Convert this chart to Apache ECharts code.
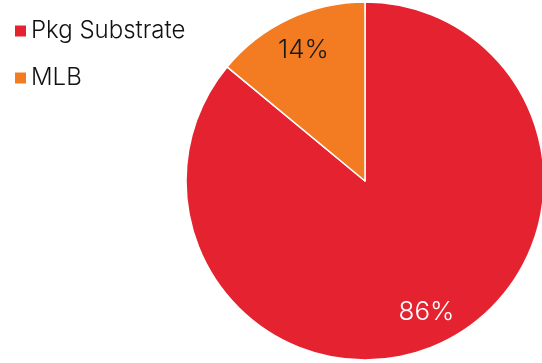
<!DOCTYPE html>
<html><head><meta charset="utf-8">
<script src="https://cdn.jsdelivr.net/npm/echarts@6/dist/echarts.min.js"></script>
<style>html,body{margin:0;padding:0;background:#fff}#c{width:542px;height:363px}</style>
</head><body><div id="c"></div>
<script>
const categories = ['Pkg Substrate', 'MLB'];
const values = [86, 14];
const colors = ['#e52330', '#f37c22'];
const labelColors = ['#ffffff', '#1a1a1a'];

const chart = echarts.init(document.getElementById('c'), null, {renderer: 'canvas'});
const font = 'Inter, "Noto Sans", sans-serif';
chart.setOption({
  animation: false,
  legend: {
    orient: 'vertical', left: 8, top: 14,
    itemWidth: 13, itemHeight: 13, itemGap: 23,
    icon: 'rect',
    data: categories,
    textStyle: {fontSize: 24, fontFamily: font, color: '#111', fontWeight: 300, padding: [0,0,0,-1]}
  },
  series: [
    {
      type: 'pie', center: [365, 181], radius: [0, 179],
      startAngle: 90, clockwise: true, silent: true,
      label: {show: false}, labelLine: {show: false},
      itemStyle: {borderColor: '#fff', borderWidth: 1.5},
      data: categories.map((n, i) => ({name: n, value: values[i], itemStyle: {color: colors[i]}}))
    },
    {
      type: 'pie', center: [365, 181], radius: [104, 179],
      startAngle: 90, clockwise: true, silent: true, legendHoverLink: false,
      itemStyle: {color: 'transparent', borderWidth: 0},
      labelLine: {show: false},
      data: categories.map((n, i) => ({
        name: n, value: values[i],
        itemStyle: {color: 'rgba(0,0,0,0)'},
        label: {show: true, position: 'inside', formatter: '{c}%', color: labelColors[i],
          fontSize: 26, fontFamily: font, fontWeight: 300}
      }))
    }
  ]
});
</script></body></html>
